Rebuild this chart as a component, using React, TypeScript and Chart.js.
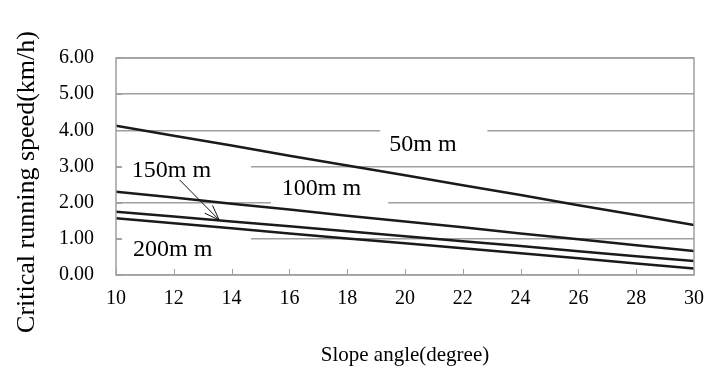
import React, { useEffect, useRef } from "react";
import { Chart, registerables } from "chart.js";

Chart.register(...registerables);

const degrees = [10, 12, 14, 16, 18, 20, 22, 24, 26, 28, 30];
const speed50 = [4.13, 3.85, 3.58, 3.30, 3.03, 2.76, 2.48, 2.21, 1.93, 1.66, 1.38];
const speed100 = [2.30, 2.14, 1.97, 1.81, 1.64, 1.48, 1.32, 1.15, 0.99, 0.82, 0.66];
const speed150 = [1.75, 1.62, 1.48, 1.35, 1.21, 1.07, 0.93, 0.80, 0.66, 0.52, 0.39];
const speed200 = [1.57, 1.43, 1.29, 1.15, 1.01, 0.88, 0.74, 0.60, 0.46, 0.32, 0.18];
const seriesNames = ["50mm", "100mm", "150mm", "200mm"];
const yTickLabels = ["0.00", "1.00", "2.00", "3.00", "4.00", "5.00", "6.00"];
const xTitle = "Slope angle(degree)";
const yTitle = "Critical running speed(km/h)";

// label boxes in data coordinates: box [x0, x1, yTop, yBottom], text at [x, y]
const labelBoxes = [
  { text: "50m m", box: [19.14, 22.85, 4.15, 3.18], at: [20.62, 3.6] },
  { text: "100m m", box: [15.36, 19.42, 2.85, 1.94], at: [17.11, 2.38] },
  { text: "150m m", box: [10.2, 14.67, 3.46, 2.41], at: [11.92, 2.88] },
  { text: "200m m", box: [10.2, 14.67, 1.16, 0.19], at: [11.96, 0.69] },
];
const arrowFrom = [12.2, 2.63];
const arrowTo = [13.57, 1.52];

const FONT = "'Liberation Serif', 'Times New Roman', serif";

const pts = (vals: number[]) => degrees.map((d, i) => ({ x: d, y: vals[i] }));

const decorPlugin = {
  id: "decor",
  beforeDatasetsDraw(chart: any) {
    const { ctx, scales } = chart;
    const xs = scales.x;
    const ys = scales.y;
    ctx.save();
    ctx.fillStyle = "#ffffff";
    for (const lb of labelBoxes) {
      const x0 = xs.getPixelForValue(lb.box[0]);
      const x1 = xs.getPixelForValue(lb.box[1]);
      const y0 = ys.getPixelForValue(lb.box[2]);
      const y1 = ys.getPixelForValue(lb.box[3]);
      ctx.fillRect(x0, y0, x1 - x0, y1 - y0);
    }
    ctx.fillStyle = "#000000";
    ctx.font = `24px ${FONT}`;
    ctx.textAlign = "center";
    ctx.textBaseline = "middle";
    for (const lb of labelBoxes) {
      ctx.fillText(lb.text, xs.getPixelForValue(lb.at[0]), ys.getPixelForValue(lb.at[1]));
    }
    ctx.restore();
  },
  afterDatasetsDraw(chart: any) {
    const { ctx, scales, chartArea } = chart;
    const xs = scales.x;
    const ys = scales.y;
    ctx.save();
    // border box
    ctx.strokeStyle = "#a0a0a0";
    ctx.lineWidth = 1.5;
    ctx.strokeRect(chartArea.left, chartArea.top, chartArea.right - chartArea.left, chartArea.bottom - chartArea.top);
    // inward ticks
    ctx.lineWidth = 1;
    ctx.beginPath();
    for (const d of degrees) {
      const px = Math.round(xs.getPixelForValue(d)) + 0.5;
      ctx.moveTo(px, chartArea.bottom);
      ctx.lineTo(px, chartArea.bottom - 6);
    }
    for (let i = 0; i < yTickLabels.length; i++) {
      const py = Math.round(ys.getPixelForValue(i)) + 0.5;
      ctx.moveTo(chartArea.left, py);
      ctx.lineTo(chartArea.left + 6, py);
    }
    ctx.stroke();
    // arrow
    const ax0 = xs.getPixelForValue(arrowFrom[0]);
    const ay0 = ys.getPixelForValue(arrowFrom[1]);
    const ax1 = xs.getPixelForValue(arrowTo[0]);
    const ay1 = ys.getPixelForValue(arrowTo[1]);
    ctx.strokeStyle = "#111";
    ctx.lineWidth = 1;
    ctx.beginPath();
    ctx.moveTo(ax0, ay0);
    ctx.lineTo(ax1, ay1);
    const ang = Math.atan2(ay1 - ay0, ax1 - ax0);
    const hl = 16;
    ctx.moveTo(ax1, ay1);
    ctx.lineTo(ax1 - hl * Math.cos(ang - 0.35), ay1 - hl * Math.sin(ang - 0.35));
    ctx.moveTo(ax1, ay1);
    ctx.lineTo(ax1 - hl * Math.cos(ang + 0.35), ay1 - hl * Math.sin(ang + 0.35));
    ctx.stroke();
    // y title
    ctx.translate(27, 182);
    ctx.rotate(-Math.PI / 2);
    ctx.fillStyle = "#000";
    ctx.font = `26px ${FONT}`;
    ctx.textAlign = "center";
    ctx.textBaseline = "middle";
    ctx.fillText(yTitle, 0, 0);
    ctx.restore();
  },
};

export default function App() {
  const ref = useRef<HTMLCanvasElement | null>(null);
  useEffect(() => {
    if (!ref.current) return;
    const lineStyle = { borderColor: "#1a1a1a", borderWidth: 2.5, pointRadius: 0, tension: 0, fill: false };
    const chart = new Chart(ref.current, {
      type: "line",
      data: {
        datasets: [
          { label: seriesNames[0], data: pts(speed50), ...lineStyle },
          { label: seriesNames[1], data: pts(speed100), ...lineStyle },
          { label: seriesNames[2], data: pts(speed150), ...lineStyle },
          { label: seriesNames[3], data: pts(speed200), ...lineStyle },
        ],
      },
      options: {
        animation: false,
        responsive: false,
        maintainAspectRatio: false,
        layout: { padding: { top: 58, right: 18, left: 0, bottom: 0 } },
        plugins: { legend: { display: false }, tooltip: { enabled: false } },
        scales: {
          x: {
            type: "linear",
            min: 10,
            max: 30,
            afterFit: (s: any) => { s.height = 110; },
            ticks: {
              stepSize: 2,
              color: "#000",
              padding: 12,
              maxRotation: 0,
              font: { family: FONT, size: 20 },
            },
            grid: { display: false, drawTicks: false },
            border: { display: false },
            title: {
              display: true,
              text: xTitle,
              color: "#000",
              font: { family: FONT, size: 21 },
              padding: { top: 0, bottom: 17 },
            },
          },
          y: {
            min: 0,
            max: 6,
            afterFit: (s: any) => { s.width = 116; },
            ticks: {
              stepSize: 1,
              color: "#000",
              padding: 22,
              font: { family: FONT, size: 20 },
              callback: (v: any) => yTickLabels[Math.round(Number(v))] ?? "",
            },
            grid: { color: "#a0a0a0", lineWidth: 1.5, drawTicks: false },
            border: { display: false },
            title: { display: false },
          },
        },
      },
      plugins: [decorPlugin],
    });
    return () => chart.destroy();
  }, []);
  return (
    <div style={{ position: "fixed", left: 0, top: 0, width: 716, height: 385, background: "#fff" }}>
      <canvas ref={ref} width={716} height={385} style={{ width: 716, height: 385 }} />
    </div>
  );
}
